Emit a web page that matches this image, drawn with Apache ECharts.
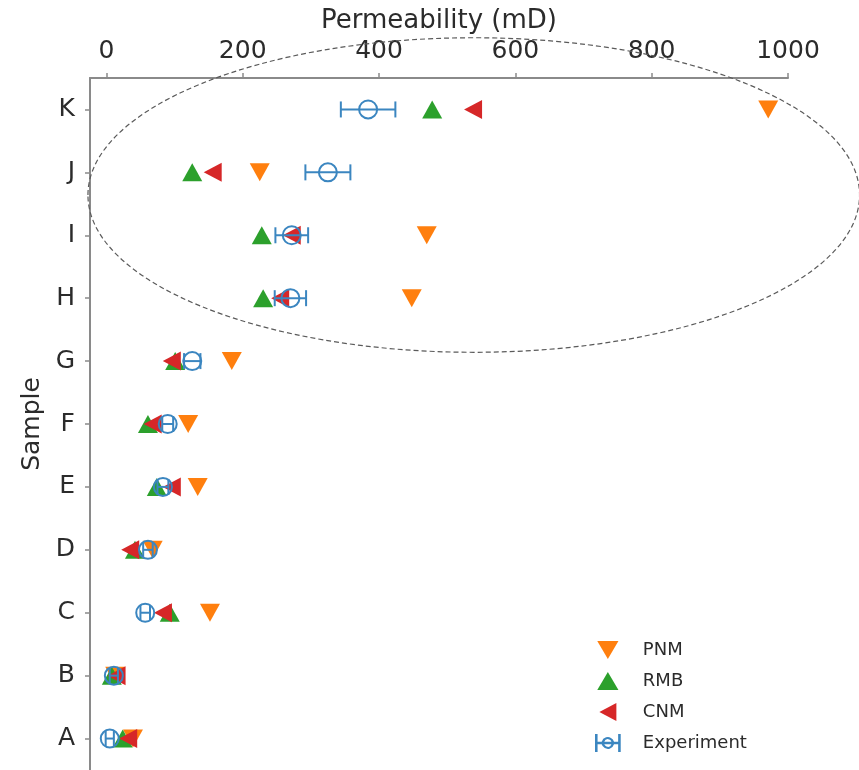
<!DOCTYPE html>
<html>
<head>
<meta charset="utf-8">
<script src="https://cdn.jsdelivr.net/npm/echarts@6/dist/echarts.min.js"></script>
<style>
  html, body { margin: 0; padding: 0; background: #ffffff; }
  #chart { width: 859px; height: 770px; }
</style>
</head>
<body>
<div id="chart"></div>
<script>
// Permeability per sample (mD) from the three models and the measured values
const samples = ['A', 'B', 'C', 'D', 'E', 'F', 'G', 'H', 'I', 'J', 'K'];
const pnm = [39, 13, 152, 68, 134, 120, 184, 448, 470, 225, 971];
const rmb = [24, 8, 93, 42, 74, 61, 101, 230, 228, 126, 478];
const cnm = [32, 15, 83, 35, 96, 68, 96, 255, 272, 156, 538];
const experiment = [5, 11, 57, 61, 83, 90, 126, 270, 272, 325, 384];
const experimentErr = [6, 6, 7, 7, 8, 8, 12, 23, 24, 33, 40];
const xTicks = [0, 200, 400, 600, 800, 1000];
const sampleTicks = [0, 1, 2, 3, 4, 5, 6, 7, 8, 9, 10];

// Highlight region around samples H-K: centre, radii (axis units)
const highlight = { cx: 539, cy: 8.64, rx: 566, ry: 2.50 };

const COLORS = { pnm: '#ff7f0e', rmb: '#2ca02c', cnm: '#d62728', exp: '#3b86c0' };
const TEXT = '#2b2b2b';
const FONT = 'DejaVu Sans';

const pts = (vals) => vals.map((v, i) => [v, i]);

const ICON_DOWN = 'path://M0,0 L20,0 L10,17 Z';
const ICON_UP = 'path://M10,0 L20,17 L0,17 Z';
const ICON_LEFT = 'path://M0,9 L17,0 L17,18 Z';
const ICON_EXP = 'path://M0,2 L0,16 L2,16 L2,10 L5.2,10 A5,5 0 0 0 14.8,10 L18,10 L18,16 L20,16 L20,2 L18,2 L18,8 L14.8,8 A5,5 0 0 0 5.2,8 L2,8 L2,2 Z M7.2,8 A3,3 0 0 1 12.8,8 Z M7.2,10 L12.8,10 A3,3 0 0 1 7.2,10 Z';

const chart = echarts.init(document.getElementById('chart'), null, { renderer: 'canvas' });

const option = {
  backgroundColor: '#ffffff',
  animation: false,
  grid: { left: 90, top: 78, width: 698, height: 692, containLabel: false, outerBoundsMode: 'none' },
  xAxis: {
    type: 'value',
    position: 'top',
    min: -24,
    max: 1000,
    name: 'Permeability (mD)',
    nameLocation: 'middle',
    nameGap: 43,
    nameTextStyle: { fontFamily: FONT, fontSize: 26, color: TEXT },
    axisLine: { show: true, onZero: false, lineStyle: { color: '#8a8a8a', width: 2 } },
    axisTick: { show: true, customValues: xTicks, length: 5, lineStyle: { color: '#8a8a8a', width: 1.5 } },
    axisLabel: {
      customValues: xTicks,
      formatter: (v) => String(v),
      fontFamily: FONT, fontSize: 25, color: TEXT, margin: 14
    },
    splitLine: { show: false }
  },
  yAxis: {
    type: 'value',
    min: -0.5,
    max: 10.5,
    name: 'Sample',
    nameLocation: 'middle',
    nameGap: 38,
    nameRotate: 90,
    nameTextStyle: { fontFamily: FONT, fontSize: 25, color: TEXT },
    axisLine: { show: true, onZero: false, lineStyle: { color: '#8a8a8a', width: 2 } },
    axisTick: { show: true, customValues: sampleTicks, length: 5, lineStyle: { color: '#8a8a8a', width: 1.5 } },
    axisLabel: {
      customValues: sampleTicks,
      formatter: (v) => samples[Math.round(v)],
      fontFamily: FONT, fontSize: 25, color: TEXT, margin: 15
    },
    splitLine: { show: false }
  },
  legend: {
    orient: 'vertical',
    left: 590,
    top: 636,
    itemWidth: 60,
    itemHeight: 18,
    itemGap: 13,
    textStyle: { fontFamily: FONT, fontSize: 18, color: TEXT },
    data: [
      { name: 'PNM', icon: ICON_DOWN, itemStyle: { color: COLORS.pnm } },
      { name: 'RMB', icon: ICON_UP, itemStyle: { color: COLORS.rmb } },
      { name: 'CNM', icon: ICON_LEFT, itemStyle: { color: COLORS.cnm } },
      { name: 'Experiment', icon: ICON_EXP, itemStyle: { color: COLORS.exp } }
    ]
  },
  series: [
    {
      name: 'PNM', type: 'scatter', data: pts(pnm),
      symbol: 'triangle', symbolRotate: 180, symbolSize: [20, 18],
      itemStyle: { color: COLORS.pnm, opacity: 1 }, z: 2
    },
    {
      name: 'RMB', type: 'scatter', data: pts(rmb),
      symbol: 'triangle', symbolSize: [20, 18],
      itemStyle: { color: COLORS.rmb, opacity: 1 }, z: 3
    },
    {
      name: 'CNM', type: 'scatter', data: pts(cnm),
      symbol: 'triangle', symbolRotate: 90, symbolSize: [19, 18],
      itemStyle: { color: COLORS.cnm, opacity: 1 }, z: 4
    },
    {
      name: 'Experiment', type: 'custom', z: 5,
      data: experiment.map((v, i) => [v, i, v - experimentErr[i], v + experimentErr[i]]),
      encode: { x: [0, 2, 3], y: 1 },
      renderItem: (params, api) => {
        const y = api.value(1);
        const c = api.coord([api.value(0), y]);
        const lo = api.coord([api.value(2), y]);
        const hi = api.coord([api.value(3), y]);
        const cap = 8;
        const stroke = { stroke: COLORS.exp, lineWidth: 2, fill: null };
        return {
          type: 'group',
          children: [
            { type: 'line', shape: { x1: lo[0], y1: c[1], x2: hi[0], y2: c[1] }, style: stroke },
            { type: 'line', shape: { x1: lo[0], y1: c[1] - cap, x2: lo[0], y2: c[1] + cap }, style: stroke },
            { type: 'line', shape: { x1: hi[0], y1: c[1] - cap, x2: hi[0], y2: c[1] + cap }, style: stroke },
            { type: 'circle', shape: { cx: c[0], cy: c[1], r: 9 }, style: { stroke: COLORS.exp, lineWidth: 2, fill: 'rgba(0,0,0,0)' } }
          ]
        };
      }
    }
  ]
};

chart.setOption(option);

// Dashed ellipse marking the high-permeability samples, placed in axis units
const centre = chart.convertToPixel({ gridIndex: 0 }, [highlight.cx, highlight.cy]);
const edgeX = chart.convertToPixel({ gridIndex: 0 }, [highlight.cx + highlight.rx, highlight.cy]);
const edgeY = chart.convertToPixel({ gridIndex: 0 }, [highlight.cx, highlight.cy + highlight.ry]);
chart.setOption({
  graphic: [{
    type: 'ellipse',
    silent: true,
    z: 1,
    shape: {
      cx: centre[0], cy: centre[1],
      rx: Math.abs(edgeX[0] - centre[0]),
      ry: Math.abs(centre[1] - edgeY[1])
    },
    style: { fill: null, stroke: '#5a5a5a', lineWidth: 1.2, lineDash: [5, 3] }
  }]
});
</script>
</body>
</html>
